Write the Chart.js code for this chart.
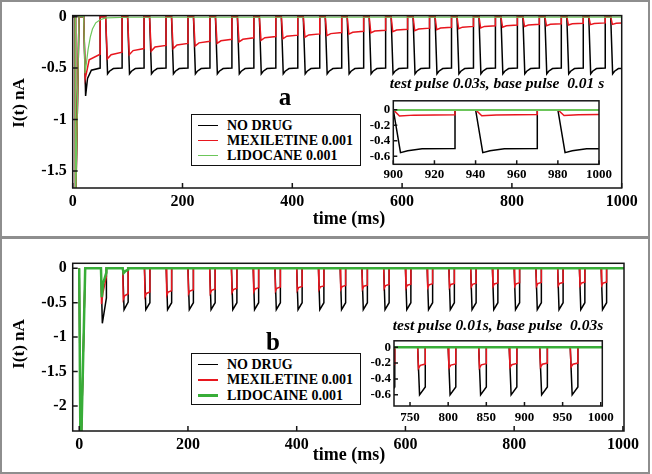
<!DOCTYPE html>
<html>
<head>
<meta charset="utf-8">
<script src="https://cdn.jsdelivr.net/npm/chart.js@4.4.1/dist/chart.umd.min.js"></script>
<style>
  html, body { margin: 0; padding: 0; background: #fff; }
  #fig { position: relative; width: 652px; height: 474px; overflow: hidden;
         font-family: "Liberation Serif", "DejaVu Serif", serif; font-weight: bold; color: #000; }
  .box { position: absolute; box-sizing: border-box; border: 2px solid #8e8e8e; }
  canvas { position: absolute; }
  .txt { position: absolute; white-space: pre; transform: translate(-50%, -50%); line-height: 1; }
  .legend { position: absolute; box-sizing: border-box; border: 1.5px solid #111; background: #fff; }
  .row { position: absolute; left: 35px; font-size: 14px; line-height: 1; transform: translateY(-50%); white-space: pre; }
  .swatch { position: absolute; left: 5.5px; width: 20px; }
</style>
</head>
<body>
<div id="fig">
  <div class="box" style="left:0;top:0;width:650px;height:238px"></div>
  <div class="box" style="left:0;top:237px;width:650px;height:237px"></div>

  <canvas id="mainA" width="652" height="236" style="left:0;top:0"></canvas>
  <canvas id="insetA" width="285" height="93" style="left:330px;top:90px"></canvas>
  <canvas id="mainB" width="652" height="237" style="left:0;top:237px"></canvas>
  <canvas id="insetB" width="292" height="94" style="left:330px;top:330px"></canvas>

  <div class="txt" style="left:18px;top:103px;font-size:17px;transform:translate(-50%,-50%) rotate(-90deg)">I(t) nA</div>
  <div class="txt" style="left:349px;top:218px;font-size:18px">time (ms)</div>
  <div class="txt" style="left:285px;top:96px;font-size:25px">a</div>
  <div class="txt" style="left:497px;top:83px;font-size:15.5px;font-style:italic">test pulse 0.03s, base pulse  0.01 s</div>
  <div class="legend" id="legA" style="left:191px;top:114px;width:170px;height:52px"></div>

  <div class="txt" style="left:18px;top:344px;font-size:17px;transform:translate(-50%,-50%) rotate(-90deg)">I(t) nA</div>
  <div class="txt" style="left:349px;top:454px;font-size:18px">time (ms)</div>
  <div class="txt" style="left:273px;top:341px;font-size:25px">b</div>
  <div class="txt" style="left:498px;top:325px;font-size:15.5px;font-style:italic">test pulse 0.01s, base pulse  0.03s</div>
  <div class="legend" id="legB" style="left:191px;top:353px;width:170px;height:52px"></div>
</div>

<script>
// ---------- data ----------
const namesA = ['NO DRUG', 'MEXILETINE 0.001', 'LIDOCANE 0.001'];
const namesB = ['NO DRUG', 'MEXILETINE 0.001', 'LIDOCAINE 0.001'];

// ticks
const xTicksMain = [0, 200, 400, 600, 800, 1000];
const yTicksA = [0, -0.5, -1, -1.5];
const yTicksB = [0, -0.5, -1, -1.5, -2];
const xTicksInsetA = [900, 920, 940, 960, 980, 1000];
const xTicksInsetB = [750, 800, 850, 900, 950, 1000];
const yTicksInset = [0, -0.2, -0.4, -0.6];

// panel a : test pulse 30 ms, base pulse 10 ms
const startTransientA = [[0, 0], [4.5, 0], [5, -1.9], [5.4, -1.9], [11.5, 0]];
const testStartA = [20, 60, 100, 140, 180, 220, 260, 300, 340, 380, 420, 460, 500,
                    540, 580, 620, 660, 700, 740, 780, 820, 860, 900, 940, 980];
const testLenA = 30;
// no drug: values at +3.5, +7, +14, +30 ms into each test pulse
const noDrugOffsA = [3.5, 7, 14, 30];
const noDrugPeakA = [-0.77, -0.555, -0.555, -0.555, -0.555, -0.555, -0.555, -0.555, -0.555, -0.555,
                     -0.555, -0.555, -0.555, -0.555, -0.555, -0.555, -0.555, -0.555, -0.555, -0.555,
                     -0.555, -0.555, -0.555, -0.555, -0.555];
const noDrugKneeA = [-0.6, -0.53, -0.53, -0.53, -0.53, -0.53, -0.53, -0.53, -0.53, -0.53,
                     -0.53, -0.53, -0.53, -0.53, -0.53, -0.53, -0.53, -0.53, -0.53, -0.53,
                     -0.53, -0.53, -0.53, -0.53, -0.53];
const noDrugSettleA = [-0.52, -0.505, -0.505, -0.505, -0.505, -0.505, -0.505, -0.505, -0.505, -0.505,
                       -0.505, -0.505, -0.505, -0.505, -0.505, -0.505, -0.505, -0.505, -0.505, -0.505,
                       -0.505, -0.505, -0.505, -0.505, -0.505];
const noDrugEndA = [-0.5, -0.5, -0.5, -0.5, -0.5, -0.5, -0.5, -0.5, -0.5, -0.5,
                    -0.5, -0.5, -0.5, -0.5, -0.5, -0.5, -0.5, -0.5, -0.5, -0.5,
                    -0.5, -0.5, -0.5, -0.5, -0.5];
// mexiletine: values at +3, +10, +30 ms
const mexOffsA = [3, 10, 30];
const mexDipA = [-0.6, -0.41, -0.37, -0.335, -0.31, -0.285, -0.26, -0.245, -0.23, -0.215,
                 -0.2, -0.185, -0.17, -0.158, -0.147, -0.137, -0.127, -0.118, -0.11, -0.102,
                 -0.095, -0.088, -0.082, -0.078, -0.075];
const mexKneeA = [-0.42, -0.37, -0.33, -0.295, -0.275, -0.255, -0.235, -0.22, -0.205, -0.19,
                  -0.178, -0.165, -0.152, -0.14, -0.13, -0.12, -0.11, -0.102, -0.095, -0.088,
                  -0.081, -0.075, -0.07, -0.067, -0.064];
const mexEndA = [-0.365, -0.345, -0.31, -0.28, -0.26, -0.24, -0.22, -0.206, -0.193, -0.18,
                 -0.168, -0.155, -0.143, -0.132, -0.122, -0.112, -0.103, -0.095, -0.088, -0.081,
                 -0.075, -0.069, -0.064, -0.061, -0.059];
// lidocaine: only the first pulse shows, then it stays near zero
const lidoA = [[20, 0], [22.5, -0.55], [25, -0.45], [28, -0.32], [32, -0.2], [36, -0.12],
               [42, -0.06], [50, -0.03], [60, -0.012], [100, -0.006], [1000, -0.005]];

// panel b : test pulse 10 ms, base pulse 30 ms
const startTransientB = [[0, 0], [2.2, -2.6], [3.5, -2.6], [11, 0]];
const testStartB = [40, 80, 120, 160, 200, 240, 280, 320, 360, 400, 440, 480,
                    520, 560, 600, 640, 680, 720, 760, 800, 840, 880, 920, 960];
const testLenB = 10;
const noDrugOffsB = [2.5, 10];
const noDrugPeakB = [-0.8, -0.6, -0.6, -0.6, -0.6, -0.6, -0.6, -0.6, -0.6, -0.6, -0.6, -0.6,
                     -0.6, -0.6, -0.6, -0.6, -0.6, -0.6, -0.6, -0.6, -0.6, -0.6, -0.6, -0.6];
const noDrugEndB = [-0.43, -0.49, -0.5, -0.5, -0.5, -0.5, -0.5, -0.5, -0.5, -0.5, -0.5, -0.5,
                    -0.5, -0.5, -0.5, -0.5, -0.5, -0.5, -0.5, -0.5, -0.5, -0.5, -0.5, -0.5];
const mexOffsB = [1, 3.5, 10];
const mexDipB = [-0.52, -0.45, -0.41, -0.39, -0.37, -0.36, -0.35, -0.34, -0.33, -0.32, -0.31, -0.305,
                 -0.3, -0.29, -0.285, -0.28, -0.275, -0.27, -0.265, -0.26, -0.26, -0.255, -0.25, -0.25];
const mexKneeB = [-0.36, -0.4, -0.365, -0.345, -0.33, -0.32, -0.31, -0.3, -0.29, -0.28, -0.27, -0.265,
                  -0.26, -0.25, -0.245, -0.24, -0.235, -0.232, -0.228, -0.225, -0.222, -0.22, -0.215, -0.215];
const mexEndB = [-0.12, -0.37, -0.345, -0.325, -0.31, -0.3, -0.29, -0.28, -0.27, -0.262, -0.255, -0.25,
                 -0.245, -0.235, -0.23, -0.225, -0.22, -0.217, -0.213, -0.21, -0.207, -0.205, -0.2, -0.2];
const lidoB = [[40, 0], [41.5, -0.42], [44, -0.22], [50, -0.06], [50, 0], [80, 0], [81.5, -0.07],
               [85, -0.04], [90, -0.02], [90, 0], [1002, 0]];

// ---------- build point lists ----------
function toPts(arr) { return arr.map(p => ({ x: p[0], y: p[1] })); }

function pulseTrain(prefix, starts, len, offs, levels, xEnd) {
    const pts = toPts(prefix);
    starts.forEach((s, k) => {
        pts.push({ x: s, y: 0 });
        offs.forEach((o, j) => pts.push({ x: s + o, y: levels[j][k] }));
        pts.push({ x: s + len, y: 0 });
    });
    if (pts[pts.length - 1].x < xEnd) pts.push({ x: xEnd, y: 0 });
    return pts;
}

const noDrugA = pulseTrain(startTransientA, testStartA, testLenA, noDrugOffsA,
    [noDrugPeakA, noDrugKneeA, noDrugSettleA, noDrugEndA], 1000);
const mexA = pulseTrain(startTransientA, testStartA, testLenA, mexOffsA,
    [mexDipA, mexKneeA, mexEndA], 1000);
const lidA = toPts(startTransientA.concat(lidoA));

const noDrugB = pulseTrain(startTransientB, testStartB, testLenB, noDrugOffsB,
    [noDrugPeakB, noDrugEndB], 1002);
const mexB = pulseTrain(startTransientB, testStartB, testLenB, mexOffsB,
    [mexDipB, mexKneeB, mexEndB], 1002);
const lidB = toPts(startTransientB.concat(lidoB));

// ---------- drawing ----------
const BLACK = '#000000', RED = '#e8161e', GREEN_A = '#6cc65a', GREEN_B = '#38ad38';
const FONT = '"Liberation Serif", "DejaVu Serif", serif';

// frame box + inward tick marks, white plot background for insets
const framePlugin = {
    id: 'frame',
    beforeDraw(chart, args, opts) {
        if (!opts.fill) return;
        const a = chart.chartArea, ctx = chart.ctx;
        ctx.save();
        ctx.fillStyle = '#fff';
        ctx.fillRect(a.left, a.top, a.width, a.height);
        ctx.restore();
    },
    afterDraw(chart, args, opts) {
        const { ctx, chartArea: a, scales } = chart;
        const len = opts.tick || 4;
        ctx.save();
        ctx.strokeStyle = '#151515';
        ctx.lineWidth = 1.5;
        ctx.beginPath();
        scales.x.ticks.forEach(t => {
            const px = scales.x.getPixelForValue(t.value);
            ctx.moveTo(px, a.bottom);
            ctx.lineTo(px, a.bottom - len);
        });
        scales.y.ticks.forEach(t => {
            const py = scales.y.getPixelForValue(t.value);
            ctx.moveTo(a.left, py);
            ctx.lineTo(a.left + len, py);
        });
        ctx.stroke();
        ctx.strokeRect(a.left, a.top, a.width, a.height);
        ctx.restore();
    }
};

function makeChart(id, cfg) {
    const ds = [
        { data: cfg.series[2], borderColor: cfg.green, borderWidth: cfg.greenWidth },
        { data: cfg.series[1], borderColor: RED, borderWidth: 1.5 },
        { data: cfg.series[0], borderColor: BLACK, borderWidth: 1.5 }
    ].map(d => Object.assign(d, { showLine: true, pointRadius: 0, fill: false, tension: 0 }));

    const tickFont = { family: FONT, size: cfg.fontSize, weight: 'bold' };
    return new Chart(document.getElementById(id), {
        type: 'scatter',
        data: { datasets: ds },
        plugins: [framePlugin],
        options: {
            responsive: false,
            animation: false,
            events: [],
            devicePixelRatio: 1,
            layout: { padding: { left: 0, top: cfg.padTop, right: cfg.padRight, bottom: 0 } },
            plugins: {
                legend: { display: false },
                tooltip: { enabled: false },
                frame: { tick: cfg.tickLen, fill: cfg.fill }
            },
            scales: {
                x: {
                    type: 'linear', min: cfg.xMin, max: cfg.xMax,
                    grid: { display: false, drawTicks: false },
                    border: { display: false },
                    afterBuildTicks: s => { s.ticks = cfg.xTicks.map(v => ({ value: v })); },
                    afterFit: s => { s.height = cfg.xHeight; },
                    ticks: { font: tickFont, color: '#000', padding: cfg.xPad, autoSkip: false,
                             maxRotation: 0, callback: v => String(v) }
                },
                y: {
                    type: 'linear', min: cfg.yMin, max: cfg.yMax,
                    grid: { display: false, drawTicks: false },
                    border: { display: false },
                    afterBuildTicks: s => { s.ticks = cfg.yTicks.map(v => ({ value: v })); },
                    afterFit: s => { s.width = cfg.yWidth; },
                    ticks: { font: tickFont, color: '#000', padding: cfg.yPad, autoSkip: false,
                             callback: v => String(v) }
                }
            }
        }
    });
}

const seriesA = [noDrugA, mexA, lidA];
const seriesB = [noDrugB, mexB, lidB];

makeChart('mainA', {
    series: seriesA, green: GREEN_A, greenWidth: 1.2, fontSize: 16, tickLen: 5, fill: false,
    xMin: 0, xMax: 1000, yMin: -1.665, yMax: 0.01, xTicks: xTicksMain, yTicks: yTicksA,
    padTop: 15, padRight: 30.3, xHeight: 48, yWidth: 72.7, xPad: 4, yPad: 6
});
makeChart('insetA', {
    series: seriesA, green: GREEN_A, greenWidth: 2, fontSize: 13, tickLen: 4, fill: true,
    xMin: 900, xMax: 1000, yMin: -0.705, yMax: 0.115, xTicks: xTicksInsetA, yTicks: yTicksInset,
    padTop: 10, padRight: 15.3, xHeight: 18.7, yWidth: 63.3, xPad: 3, yPad: 3
});
makeChart('mainB', {
    series: seriesB, green: GREEN_B, greenWidth: 2.5, fontSize: 16, tickLen: 5, fill: false,
    xMin: -12, xMax: 1002, yMin: -2.365, yMax: 0.073, xTicks: xTicksMain, yTicks: yTicksB,
    padTop: 26.3, padRight: 28, xHeight: 43, yWidth: 72.7, xPad: 4, yPad: 6
});
makeChart('insetB', {
    series: seriesB, green: GREEN_B, greenWidth: 2.5, fontSize: 13, tickLen: 4, fill: true,
    xMin: 729, xMax: 1002, yMin: -0.74, yMax: 0.08, xTicks: xTicksInsetB, yTicks: yTicksInset,
    padTop: 7.7, padRight: 19.7, xHeight: 18, yWidth: 64, xPad: 4, yPad: 3
});

// ---------- legends ----------
function buildLegend(id, names, green, greenWidth, rows) {
    const el = document.getElementById(id);
    const colors = [BLACK, RED, green];
    const widths = [1.5, 1.5, greenWidth];
    names.forEach((n, i) => {
        const sw = document.createElement('div');
        sw.className = 'swatch';
        sw.style.top = (rows[i] - widths[i] / 2) + 'px';
        sw.style.height = widths[i] + 'px';
        sw.style.background = colors[i];
        el.appendChild(sw);
        const t = document.createElement('div');
        t.className = 'row';
        t.style.top = rows[i] + 'px';
        t.textContent = n;
        el.appendChild(t);
    });
}
buildLegend('legA', namesA, GREEN_A, 1.2, [10.5, 25.5, 40.5]);
buildLegend('legB', namesB, GREEN_B, 2.5, [10.5, 26, 41.5]);
</script>
</body>
</html>
